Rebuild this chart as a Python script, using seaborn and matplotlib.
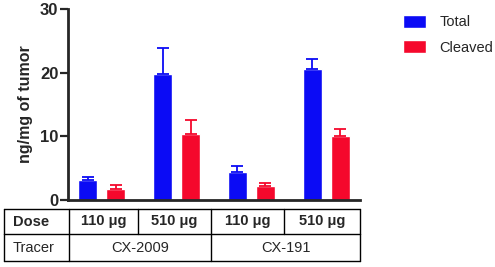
import numpy as np
import pandas as pd
import seaborn as sns
import matplotlib.pyplot as plt

# values
groups = ['CX-2009 110', 'CX-2009 510', 'CX-191 110', 'CX-191 510']
total = [3.1, 19.8, 4.4, 20.5]
total_err = [0.5, 4.0, 0.9, 1.7]
cleaved = [1.8, 10.3, 2.2, 10.0]
cleaved_err = [0.5, 2.3, 0.5, 1.1]
doses = ['110 μg', '510 μg', '110 μg', '510 μg']
tracers = ['CX-2009', 'CX-191']
series = ['Total', 'Cleaved']
colors = ['#0b0bf5', '#f5082c']

df = pd.DataFrame({'group': groups * 2,
                   'value': total + cleaved,
                   'err': total_err + cleaved_err,
                   'series': [series[0]] * 4 + [series[1]] * 4})

sns.set_style('ticks')
plt.rcParams['font.family'] = ['Liberation Sans', 'DejaVu Sans']

fig = plt.figure(figsize=(4.95, 2.67), dpi=100)
W, H = 495, 267
ax = fig.add_axes([68 / W, 1 - 200 / H, (360 - 68) / W, (200 - 9) / H])

sns.barplot(data=df, x='group', y='value', hue='series', palette=colors,
            width=0.747, gap=0.32, errorbar=None, saturation=1, ax=ax)

# one-sided error bars, same colour as bars
for cont, errs, c in zip(ax.containers, [total_err, cleaved_err], colors):
    for bar, e in zip(cont, errs):
        xc = bar.get_x() + bar.get_width() / 2
        ax.errorbar(xc, bar.get_height(), yerr=[[0], [e]], fmt='none',
                    ecolor=c, elinewidth=1.3, capsize=4, capthick=1.3)

ax.set_xlim(-0.447, 3.447)
ax.set_ylim(0, 30)
ax.set_yticks([0, 10, 20, 30])
ax.set_xticks([])
ax.set_xlabel('')
ax.set_ylabel('ng/mg of tumor', fontsize=11.5, fontweight='bold', labelpad=5)
for lab in ax.get_yticklabels():
    lab.set_fontweight('bold')
ax.tick_params(axis='y', labelsize=12, width=1.6, length=6, pad=1)
sns.despine(ax=ax)
for s in ['left', 'bottom']:
    ax.spines[s].set_linewidth(2)

leg = ax.legend(loc='upper left', bbox_to_anchor=(403 / W, 1 - 15 / H),
                bbox_transform=fig.transFigure, frameon=False, fontsize=10.5,
                handlelength=1.6, handleheight=0.95, labelspacing=0.75,
                handletextpad=0.9, borderpad=0, borderaxespad=0)

# table under the axis
tab = fig.add_axes([0, 0, 1, 1])
tab.set_xlim(0, W)
tab.set_ylim(H, 0)
tab.axis('off')
lw = 1.0
cols = [4, 69, 138, 211, 284, 360]
rows = [209, 234, 261]
for y in rows:
    tab.plot([cols[0], cols[-1]], [y, y], color='black', lw=lw)
for x in cols:
    tab.plot([x, x], [rows[0], rows[1]], color='black', lw=lw)
for x in [cols[0], cols[1], cols[3], cols[5]]:
    tab.plot([x, x], [rows[1], rows[2]], color='black', lw=lw)

tab.text(13, (rows[0] + rows[1]) / 2 + 1, 'Dose', fontsize=10.5, fontweight='bold',
         ha='left', va='center')
tab.text(13, (rows[1] + rows[2]) / 2, 'Tracer', fontsize=10.5, ha='left', va='center')
for i, d in enumerate(doses):
    tab.text((cols[i + 1] + cols[i + 2]) / 2, (rows[0] + rows[1]) / 2 - 1, d,
             fontsize=10.5, fontweight='bold', ha='center', va='center')
for i, t in enumerate(tracers):
    tab.text((cols[1 + 2 * i] + cols[3 + 2 * i]) / 2, (rows[1] + rows[2]) / 2, t,
             fontsize=10.5, ha='center', va='center')

fig.savefig('out.png', dpi=100)
